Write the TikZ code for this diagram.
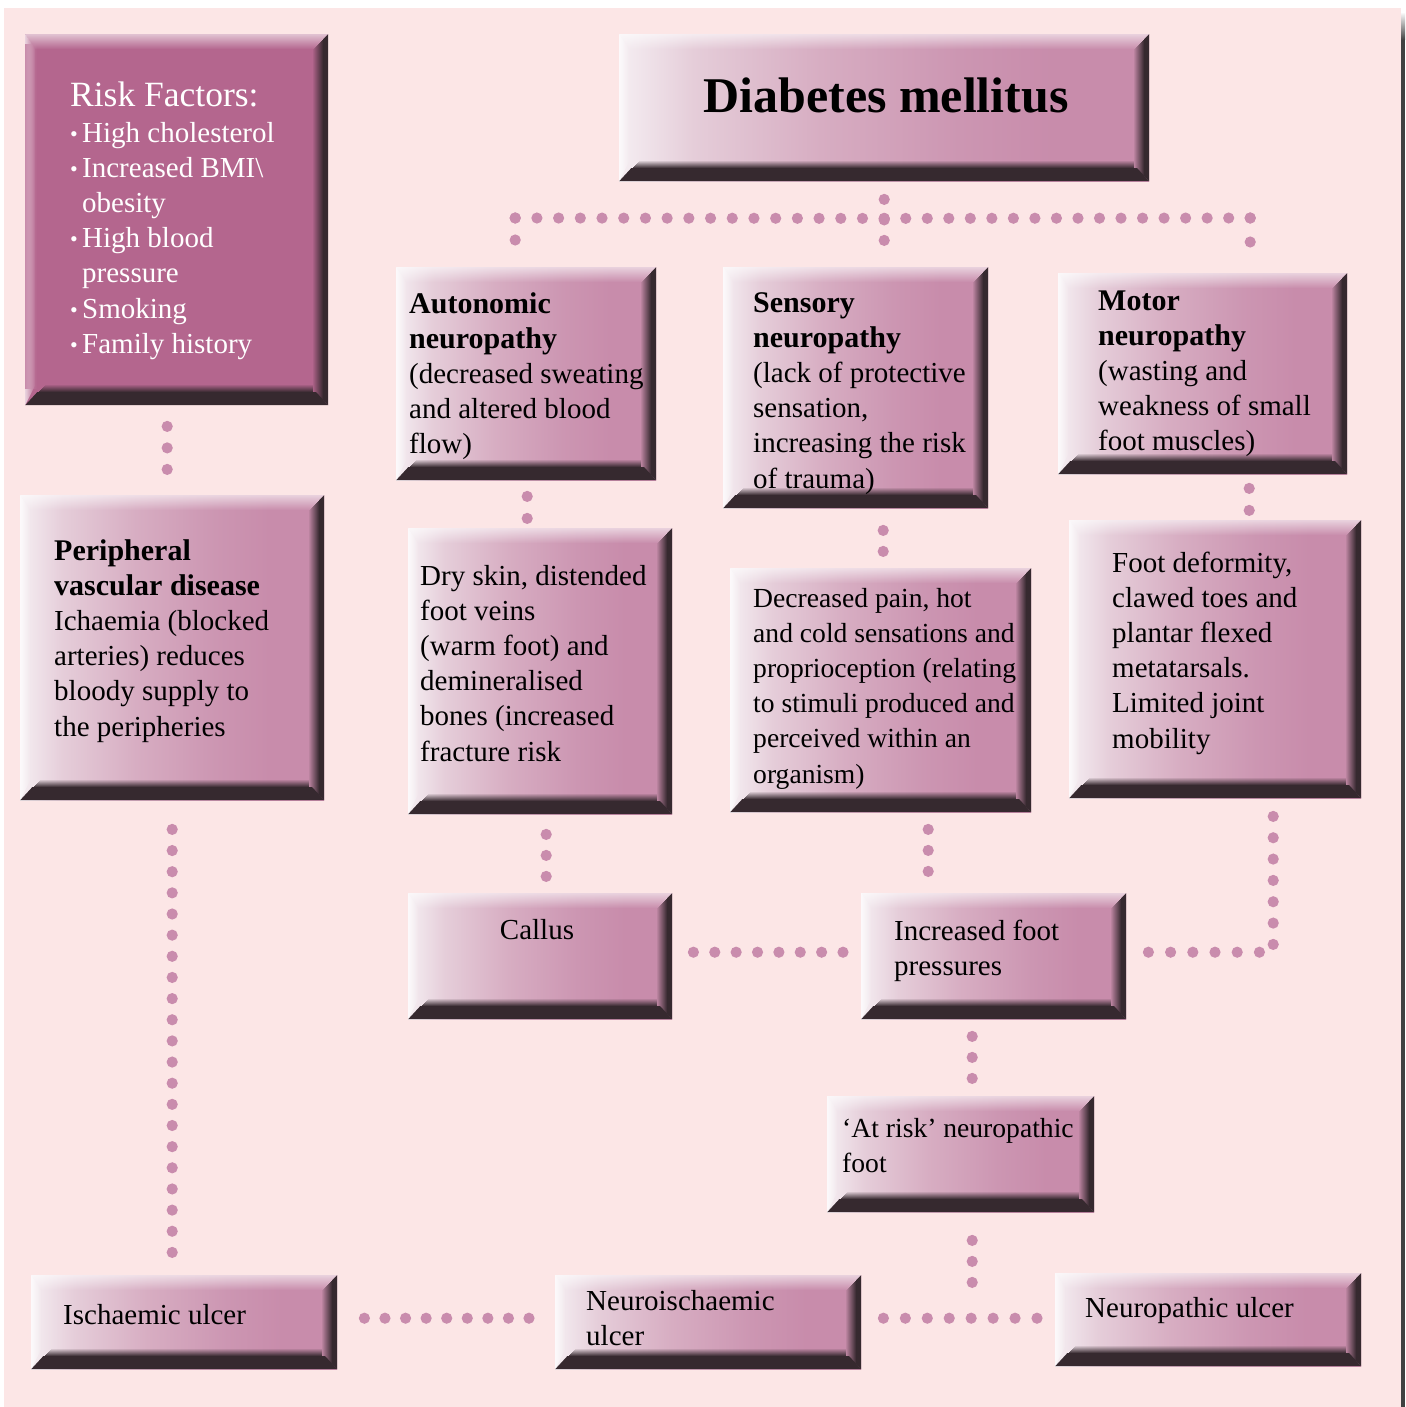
\documentclass[tikz,border=0pt]{standalone}
\usepackage{fontspec}
\setmainfont{Liberation Serif}
\usetikzlibrary{calc,fadings}
\definecolor{bg}{HTML}{FCE6E6}
\definecolor{boxD}{HTML}{36292F}
\definecolor{risk}{HTML}{B4668E}
\definecolor{riskL}{HTML}{C88CAB}
\definecolor{dotc}{HTML}{C98CAD}
\definecolor{gA}{HTML}{F5EEF2}
\definecolor{gB}{HTML}{E5CDD9}
\definecolor{gC}{HTML}{D7ADC2}
\definecolor{gD}{HTML}{CC96B2}
\definecolor{gE}{HTML}{C88CAB}
\pgfdeclarehorizontalshading{boxsh}{100bp}{color(0bp)=(gA); color(25bp)=(gA); color(32bp)=(gB); color(44bp)=(gC); color(57bp)=(gD); color(66bp)=(gE); color(100bp)=(gE)}
\tikzfading[name=fadeT, top color=transparent!0, bottom color=transparent!100]
\tikzfading[name=fadeL, left color=transparent!0, right color=transparent!100]
\newcommand\hd[1]{{\fontsize{30}{35.2}\selectfont\bfseries #1}}
\newcommand\txtbox[1]{\begin{minipage}[t]{420pt}\raggedright #1\end{minipage}}
\newcommand\dotrow[3]{\foreach \i in {0,...,#3}{\fill[dotc] ($#1!\i/#3!#2$) circle (5.6pt);}}
\newcommand\rb{\makebox[12pt][l]{\fontsize{22}{22}\selectfont\raisebox{1pt}{•}}}
\tikzset{
  bevel/.style={path picture={
    \coordinate (ppnw) at (path picture bounding box.north west);
    \coordinate (ppne) at (path picture bounding box.north east);
    \coordinate (ppsw) at (path picture bounding box.south west);
    \coordinate (ppse) at (path picture bounding box.south east);
    \fill[white, opacity=.6, path fading=fadeT] (ppnw) -- (ppne) -- ([xshift=-14pt,yshift=-15pt]ppne) -- ([xshift=10pt,yshift=-15pt]ppnw) -- cycle;
    \fill[white, opacity=.7, path fading=fadeL] (ppnw) -- ([xshift=10pt,yshift=-15pt]ppnw) -- ([xshift=10pt,yshift=20pt]ppsw) -- (ppsw) -- cycle;
    % right bevel
    \fill[boxD] (ppne) -- ([xshift=-5pt,yshift=-5pt]ppne) -- ([xshift=-5pt,yshift=5pt]ppse) -- (ppse) -- cycle;
    \foreach \j [evaluate=\j as \o using \j/11, evaluate=\j as \xa using 16-\j, evaluate=\j as \xb using 15-\j] in {1,...,10}
      \fill[boxD, opacity=\o] ([xshift=-\xa pt, yshift=-\xa pt]ppne) rectangle ([xshift=-\xb pt, yshift=0pt]ppse);
    % bottom bevel
    \fill[boxD] (ppsw) -- ([xshift=12pt,yshift=13pt]ppsw) -- ([xshift=-12pt,yshift=13pt]ppse) -- (ppse) -- cycle;
    \foreach \k [evaluate=\k as \o using \k/8, evaluate=\k as \ya using 21-\k, evaluate=\k as \yb using 20-\k] in {1,...,7}
      \fill[boxD, opacity=\o] ([xshift=\ya pt, yshift=\ya pt]ppsw) rectangle ([xshift=-15pt, yshift=\yb pt]ppse);
  }},
  box/.style={rectangle, inner sep=0pt, anchor=north west, shade, shading=boxsh, bevel},
  riskbox/.style={rectangle, inner sep=0pt, anchor=north west, fill=risk, bevel},
  tx/.style={inner sep=0pt, anchor=base west, font=\fontsize{29}{35.2}\selectfont, text=black},
}
\begin{document}
\begin{tikzpicture}[x=1pt,y=-1pt]
\useasboundingbox (0,0) rectangle (1405,1407);
\fill[white] (0,0) rectangle (1405,1407);
\fill[bg] (4,8) rectangle (1401,1407);
\shade[top color=white, bottom color=black!75] (1401,12) rectangle (1405,40);
\fill[black!75] (1401,40) rectangle (1405,1407);

% boxes
\node[riskbox, minimum width=303pt, minimum height=371pt] (rf) at (25,34) {};
\fill[riskL, path fading=fadeL] (rf.north west) ++(0,10) rectangle ++(12,345);
\node[box, minimum width=530pt, minimum height=147pt] (dm) at (619,34) {};
\node[box, minimum width=260pt, minimum height=213pt] (an) at (396,267) {};
\node[box, minimum width=265pt, minimum height=241pt] (se) at (723,267) {};
\node[box, minimum width=289pt, minimum height=201pt] (mo) at (1058,273) {};
\node[box, minimum width=304pt, minimum height=305pt] (pv) at (20,495) {};
\node[box, minimum width=264pt, minimum height=286pt] (ds) at (408,528) {};
\node[box, minimum width=301pt, minimum height=244pt] (dp) at (730,568) {};
\node[box, minimum width=292pt, minimum height=278pt] (fd) at (1069,520) {};
\node[box, minimum width=264pt, minimum height=126pt] (ca) at (408,893) {};
\node[box, minimum width=265pt, minimum height=126pt] (if) at (861,893) {};
\node[box, minimum width=267pt, minimum height=116pt] (ar) at (827,1096) {};
\node[box, minimum width=306pt, minimum height=94pt] (iu) at (31,1275) {};
\node[box, minimum width=306pt, minimum height=94pt] (ni) at (555,1275) {};
\node[box, minimum width=306pt, minimum height=93pt] (nu) at (1055,1273) {};

% texts
\node[tx, text=white] (rf-t) at (70,107) {\txtbox{{\fontsize{35.5}{35.2}\selectfont Risk Factors:}\\
\rb High cholesterol\\ \rb Increased BMI\textbackslash\\ \hspace*{12pt}obesity\\ \rb High blood\\ \hspace*{12pt}pressure\\ \rb Smoking\\ \rb Family history}};
\node[inner sep=0pt, anchor=base, font=\fontsize{50}{60}\selectfont\bfseries] (dm-t) at (886,113) {Diabetes mellitus};
\node[tx] (an-t) at (409,313) {\txtbox{\hd{Autonomic}\\ \hd{neuropathy}\\ (decreased sweating\\ and altered blood\\ flow)}};
\node[tx] (se-t) at (753,312) {\txtbox{\hd{Sensory}\\ \hd{neuropathy}\\ (lack of protective\\ sensation,\\ increasing the risk\\ of trauma)}};
\node[tx] (mo-t) at (1098,310) {\txtbox{\hd{Motor}\\ \hd{neuropathy}\\ (wasting and\\ weakness of small\\ foot muscles)}};
\node[tx] (pv-t) at (54,560) {\txtbox{\hd{Peripheral}\\ \hd{vascular disease}\\ Ichaemia (blocked\\ arteries) reduces\\ bloody supply to\\ the peripheries}};
\node[tx] (ds-t) at (420,585) {\txtbox{Dry skin, distended\\ foot veins\\ (warm foot) and\\ demineralised\\ bones (increased\\ fracture risk}};
\node[tx, font=\fontsize{27.6}{35.2}\selectfont] (dp-t) at (753,607) {\txtbox{Decreased pain, hot\\ and cold sensations and\\ proprioception (relating\\ to stimuli produced and\\ perceived within an\\ organism)}};
\node[tx] (fd-t) at (1112,572) {\txtbox{Foot deformity,\\ clawed toes and\\ plantar flexed\\ metatarsals.\\ Limited joint\\ mobility}};
\node[tx, anchor=base] (ca-t) at (537,939) {Callus};
\node[tx] (if-t) at (894,940) {\txtbox{Increased foot\\ pressures}};
\node[tx, font=\fontsize{27.6}{35.2}\selectfont] (ar-t) at (842,1137) {\txtbox{‘At risk’ neuropathic\\ foot}};
\node[tx] (iu-t) at (63,1324) {Ischaemic ulcer};
\node[tx] (ni-t) at (586,1310) {\txtbox{Neuroischaemic\\ ulcer}};
\node[tx] (nu-t) at (1085,1317) {Neuropathic ulcer};

% connector coordinates
\coordinate (d0) at ($(dm.south)+(0,18)$);
\coordinate (d1) at ($(dm.south)+(0,59)$);
\coordinate (dj) at ($(dm.south)+(0,37)$);
\coordinate (hl) at ($(an.north)+(-11,-49)$);
\coordinate (hl2) at ($(an.north)+(-11,-27)$);
\coordinate (hr) at ($(mo.north)+(47.5,-55)$);
\coordinate (hr2) at ($(mo.north)+(47.5,-31)$);
\dotrow{(d0)}{(d1)}{2}
\dotrow{(hl)}{(dj)}{17}
\dotrow{(dj)}{(hr)}{17}
\dotrow{(hl)}{(hl2)}{1}
\dotrow{(hr)}{(hr2)}{1}

\coordinate (r0) at ($(rf.south)+(-9.5,21)$);
\coordinate (r1) at ($(rf.south)+(-9.5,64)$);
\dotrow{(r0)}{(r1)}{2}
\coordinate (a0) at ($(an.south)+(1,16)$);
\coordinate (a1) at ($(an.south)+(1,38)$);
\dotrow{(a0)}{(a1)}{1}
\coordinate (s0) at ($(se.south)+(27.5,22)$);
\coordinate (s1) at ($(se.south)+(27.5,43)$);
\dotrow{(s0)}{(s1)}{1}
\coordinate (m0) at ($(mo.south)+(46.5,14)$);
\coordinate (m1) at ($(mo.south)+(46.5,36)$);
\dotrow{(m0)}{(m1)}{1}
\coordinate (k0) at ($(ds.south)+(6,20)$);
\coordinate (k1) at ($(ds.south)+(6,62)$);
\dotrow{(k0)}{(k1)}{2}
\coordinate (p0) at ($(dp.south)+(47.5,17)$);
\coordinate (p1) at ($(dp.south)+(47.5,59)$);
\dotrow{(p0)}{(p1)}{2}
\coordinate (f0) at ($(fd.south)+(58,18)$);
\coordinate (f1) at ($(fd.south)+(58,146)$);
\dotrow{(f0)}{(f1)}{6}
\coordinate (f2) at ($(if.east)+(133,-4)$);
\coordinate (f3) at ($(if.east)+(22,-4)$);
\dotrow{(f2)}{(f3)}{5}
\coordinate (c0) at ($(ca.east)+(21,-4)$);
\coordinate (c1) at ($(if.west)+(-18,-4)$);
\dotrow{(c0)}{(c1)}{7}
\coordinate (v0) at ($(pv.south)+(0,29)$);
\coordinate (v1) at ($(pv.south)+(0,452)$);
\dotrow{(v0)}{(v1)}{20}
\coordinate (i0) at ($(if.south)+(-21.5,17)$);
\coordinate (i1) at ($(if.south)+(-21.5,59)$);
\dotrow{(i0)}{(i1)}{2}
\coordinate (t0) at ($(ar.south)+(11.5,28)$);
\coordinate (t1) at ($(ar.south)+(11.5,70)$);
\dotrow{(t0)}{(t1)}{2}
\coordinate (b0) at ($(ni.east)+(22,-4)$);
\coordinate (b1) at ($(nu.west)+(-18,-1.5)$);
\dotrow{(b0)}{(b1)}{7}
\coordinate (u0) at ($(iu.east)+(27,-4)$);
\coordinate (u1) at ($(ni.west)+(-26,-4)$);
\dotrow{(u0)}{(u1)}{8}
\end{tikzpicture}
\end{document}
